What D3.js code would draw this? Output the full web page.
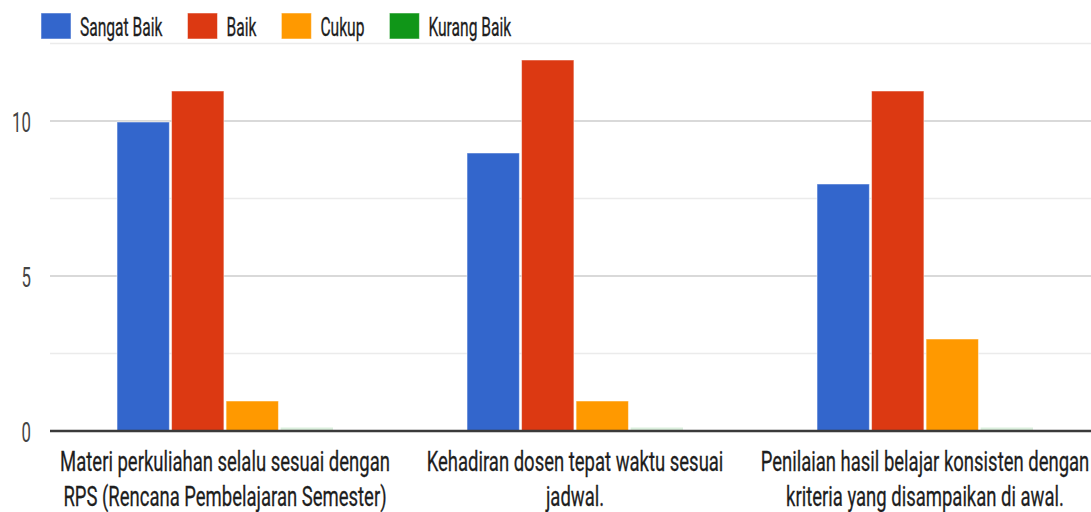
<!DOCTYPE html>
<html>
<head>
<meta charset="utf-8">
<script src="https://cdn.jsdelivr.net/npm/d3@7"></script>
<style>
  html, body { margin: 0; padding: 0; background: #fff; }
  svg { display: block; }
  text { font-family: Roboto, "Liberation Sans", Arial, sans-serif; }
</style>
</head>
<body>
<svg id="chart" width="1091" height="512"></svg>
<script>
const categories = [
  ["Materi perkuliahan selalu sesuai dengan", "RPS (Rencana Pembelajaran Semester)"],
  ["Kehadiran dosen tepat waktu sesuai", "jadwal."],
  ["Penilaian hasil belajar konsisten dengan", "kriteria yang disampaikan di awal."]
];
const seriesNames = ["Sangat Baik", "Baik", "Cukup", "Kurang Baik"];
const sangatBaik = [10, 9, 8];
const baik = [11, 12, 11];
const cukup = [1, 1, 3];
const kurangBaik = [0, 0, 0];
const seriesValues = [sangatBaik, baik, cukup, kurangBaik];
const colors = ["#3366cc", "#dc3912", "#ff9900", "#109618"];
const majorTicks = [0, 5, 10];
const minorTicks = [2.5, 7.5, 12.5];

const svg = d3.select("#chart");
const W = 1091;
const plot = { left: 50, right: 1100, top: 43.5, bottom: 431 };

const catIdx = categories.map((d, i) => i);
const x0 = d3.scaleBand().domain(catIdx).range([plot.left, plot.right]).paddingInner(0.383).paddingOuter(0.1915);
const x1 = d3.scaleBand().domain(seriesNames).range([0, x0.bandwidth()]).paddingInner(0.04);
const y = d3.scaleLinear().domain([0, 12.5]).range([plot.bottom, plot.top]);

// gridlines
svg.append("g").selectAll("line").data(minorTicks).join("line")
  .attr("x1", plot.left).attr("x2", W)
  .attr("y1", d => y(d)).attr("y2", d => y(d))
  .attr("stroke", "#ebebeb").attr("stroke-width", 1.5);
svg.append("g").selectAll("line").data(majorTicks.filter(d => d !== 0)).join("line")
  .attr("x1", plot.left).attr("x2", W)
  .attr("y1", d => y(d)).attr("y2", d => y(d))
  .attr("stroke", "#cccccc").attr("stroke-width", 1.5);

// y tick labels (via axis)
const yAxis = d3.axisLeft(y).tickValues(majorTicks).tickSize(0).tickPadding(0).tickFormat(d3.format("d"));
const yg = svg.append("g").attr("transform", `translate(31,0)`).call(yAxis);
yg.select(".domain").remove();
yg.selectAll("text")
  .attr("font-size", 28).attr("fill", "#444").attr("dy", "0.36em").attr("x", 0);
yg.selectAll(".tick").each(function() {
  const g = d3.select(this);
  g.attr("transform", g.attr("transform") + " scale(0.6,1)");
});

// bars
const groups = svg.append("g").selectAll("g").data(catIdx).join("g")
  .attr("transform", i => `translate(${x0(i)},0)`);
groups.selectAll("rect")
  .data(i => seriesNames.map((s, k) => ({ s, k, v: seriesValues[k][i] })))
  .join("rect")
  .attr("x", d => x1(d.s))
  .attr("width", x1.bandwidth())
  .attr("y", d => d.v > 0 ? y(d.v) + 1 : y(0) - 3.5)
  .attr("height", d => d.v > 0 ? y(0) - y(d.v) - 1 : 2.5)
  .attr("fill", d => colors[d.k])
  .attr("fill-opacity", d => d.v > 0 ? 1 : 0.15)
  .attr("stroke", d => d.v > 0 ? "#ffffff" : "none")
  .attr("stroke-opacity", 0.5)
  .attr("stroke-width", 1);

// baseline
svg.append("line")
  .attr("x1", plot.left).attr("x2", W)
  .attr("y1", y(0)).attr("y2", y(0))
  .attr("stroke", "#3a3a3a").attr("stroke-width", 2.5);

// category labels
const lab = svg.append("g").selectAll("g").data(catIdx).join("g")
  .attr("transform", i => `translate(${x0(i) + x0.bandwidth() / 2},0)`);
lab.each(function(i) {
  const g = d3.select(this);
  categories[i].forEach((line, li) => {
    g.append("text")
      .attr("text-anchor", "middle")
      .attr("font-size", 28)
      .attr("fill", "#1e1e1e")
      .attr("stroke", "#1e1e1e").attr("stroke-width", 0.3)
      .attr("transform", `translate(0,${471 + li * 35}) scale(0.66,1)`)
      .text(line);
  });
});

// legend
const legend = svg.append("g");
let lx = 41;
const lsx = 0.6;
seriesNames.forEach((name, k) => {
  const g = legend.append("g").attr("transform", `translate(${lx},0)`);
  g.append("rect").attr("x", 0).attr("y", 13).attr("width", 30).attr("height", 26)
    .attr("fill", colors[k]).attr("stroke", "#fff").attr("stroke-opacity", 0.5);
  const t = g.append("text")
    .attr("font-size", 26).attr("fill", "#1e1e1e")
    .attr("stroke", "#1e1e1e").attr("stroke-width", 0.3)
    .attr("transform", `translate(39,35.5) scale(${lsx},1)`)
    .text(name);
  const w = t.node().getComputedTextLength() * lsx;
  lx += 39 + w + 25;
});
</script>
</body>
</html>
